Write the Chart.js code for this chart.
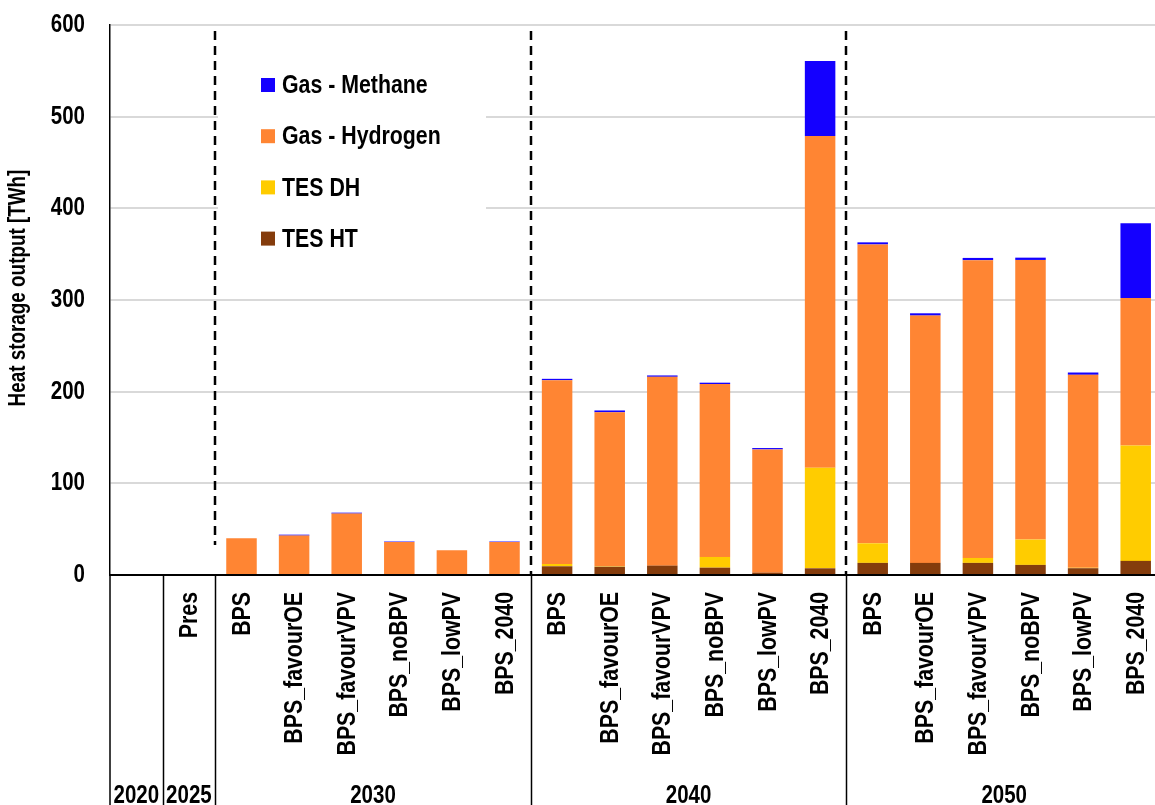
<!DOCTYPE html>
<html>
<head>
<meta charset="utf-8">
<script src="https://cdn.jsdelivr.net/npm/chart.js@4.4.1/dist/chart.umd.min.js"></script>
<style>
  html, body { margin: 0; padding: 0; background: #fff; overflow: hidden; }
  #wrap { width: 1155px; height: 805px; overflow: hidden; position: relative; }
  canvas { display: block; }
</style>
</head>
<body>
<div id="wrap"><canvas id="c" width="1162" height="805" style="width:1162px;height:805px"></canvas></div>
<script>
// ---- data ----
const categories = ['', 'Pres',
  'BPS', 'BPS_favourOE', 'BPS_favourVPV', 'BPS_noBPV', 'BPS_lowPV', 'BPS_2040',
  'BPS', 'BPS_favourOE', 'BPS_favourVPV', 'BPS_noBPV', 'BPS_lowPV', 'BPS_2040',
  'BPS', 'BPS_favourOE', 'BPS_favourVPV', 'BPS_noBPV', 'BPS_lowPV', 'BPS_2040'];
const yearLabels = ['2020', '2025', '2030', '2040', '2050'];
const yearSizes = [1, 1, 6, 6, 6];
const seriesNames = ['TES HT', 'TES DH', 'Gas - Hydrogen', 'Gas - Methane'];
const tesHT = [0, 0, 0, 0, 0, 0, 0, 0, 9.5, 9, 10.2, 8, 2.5, 7.3, 13.2, 13.2, 13.2, 11, 7.4, 15.4];
const tesDH = [0, 0, 0, 0, 0, 0, 0, 0, 2.5, 0.5, 0, 11.7, 0, 109.6, 21.4, 0, 5.4, 27.7, 0.5, 126];
const gasH2 = [0, 0, 40, 43, 67, 36, 27, 36, 200.5, 168, 206, 188.6, 134.5, 362.1, 326, 269.8, 324.8, 305, 210.5, 160.9];
const gasCH4 = [0, 0, 0, 1, 1, 0.5, 0, 0.5, 1.5, 2, 1.5, 1.5, 1.5, 81.7, 2.3, 2.5, 2.5, 2.5, 2.5, 81.3];
const yTicks = [0, 100, 200, 300, 400, 500, 600];
const yTitle = 'Heat storage output [TWh]';

// ---- style ----
const colors = ['#843C0C', '#FFCC00', '#FF8533', '#1400FF'];
const FAM = "'Liberation Sans', Arial, sans-serif";
const SX = 0.82; // narrow-font emulation

const seriesValues = [tesHT, tesDH, gasH2, gasCH4];
const datasets = seriesNames.map((n, i) => ({
  label: n, data: seriesValues[i], backgroundColor: colors[i], borderWidth: 0,
  categoryPercentage: 1.0, barPercentage: 0.58, stack: 's'
}));

function narrowText(ctx, text, x, y, opts) {
  ctx.save();
  ctx.translate(x, y);
  if (opts.rotate) ctx.rotate(opts.rotate);
  ctx.scale(SX, 1);
  ctx.font = 'bold ' + opts.size + 'px ' + FAM;
  ctx.textAlign = opts.align || 'left';
  ctx.textBaseline = opts.baseline || 'middle';
  ctx.fillStyle = '#000';
  ctx.fillText(text, 0, 0);
  ctx.restore();
}

const decor = {
  id: 'decor',
  beforeDatasetsDraw(chart) {
    const ctx = chart.ctx;
    ctx.save();
    ctx.fillStyle = '#fff';
    ctx.fillRect(218, 45, 268, 230);
    const order = [3, 2, 1, 0];
    order.forEach((di, k) => {
      const yc = 85 + k * 51.2;
      ctx.fillStyle = chart.data.datasets[di].backgroundColor;
      ctx.fillRect(261, yc - 7, 14, 14);
      narrowText(ctx, chart.data.datasets[di].label, 282, yc + 1, { size: 26 });
    });
    ctx.restore();
  },
  afterDraw(chart) {
    const ctx = chart.ctx;
    const xs = chart.scales.x;
    const ys = chart.scales.y;
    const ca = chart.chartArea;
    const n = chart.data.labels.length;
    const H = chart.height;
    const boundary = (i) => (xs.getPixelForTick(i - 1) + xs.getPixelForTick(i)) / 2;
    ctx.save();
    let idx = 0;
    const bounds = [];
    yearSizes.forEach((s) => { bounds.push(idx); idx += s; });
    // dashed separators in plot
    ctx.strokeStyle = '#000';
    ctx.lineWidth = 2.5;
    ctx.setLineDash([9, 6]);
    [2, 8, 14].forEach((b, k) => {
      const x = Math.round(boundary(b));
      ctx.beginPath();
      ctx.moveTo(x, ca.top + 6);
      ctx.lineTo(x, k === 0 ? ca.bottom - 30 : ca.bottom);
      ctx.stroke();
    });
    ctx.setLineDash([]);
    // solid separators below axis
    ctx.lineWidth = 1.5;
    bounds.forEach((b) => {
      const x = b === 0 ? ca.left : Math.round(boundary(b)) + 0.5;
      ctx.beginPath();
      ctx.moveTo(x, ca.bottom);
      ctx.lineTo(x, H);
      ctx.stroke();
    });
    // x-axis line
    ctx.lineWidth = 2;
    ctx.beginPath();
    ctx.moveTo(ca.left, ca.bottom);
    ctx.lineTo(chart.width, ca.bottom);
    ctx.stroke();
    // y tick labels
    yTicks.forEach((v) => {
      narrowText(ctx, String(v), ca.left - 25, ys.getPixelForValue(v), { size: 25, align: 'right' });
    });
    // y title
    narrowText(ctx, yTitle, 19, 288, { size: 23, align: 'center', rotate: -Math.PI / 2 });
    // rotated category labels
    chart.data.labels.forEach((lab, i) => {
      if (!lab) return;
      narrowText(ctx, lab, xs.getPixelForTick(i) + 1, ca.bottom + 17,
        { size: 26, align: 'right', rotate: -Math.PI / 2 });
    });
    // year labels
    bounds.forEach((b, k) => {
      const x0 = b === 0 ? ca.left : boundary(b);
      const e = b + yearSizes[k];
      const x1 = e >= n ? chart.width : boundary(e);
      narrowText(ctx, yearLabels[k], (x0 + x1) / 2, H - 2, { size: 25, align: 'center', baseline: 'alphabetic' });
    });
    ctx.restore();
  }
};

new Chart(document.getElementById('c'), {
  type: 'bar',
  data: { labels: categories, datasets },
  options: {
    responsive: false,
    animation: false,
    layout: { padding: { top: 25, right: 0, left: 0, bottom: 0 } },
    plugins: { legend: { display: false }, tooltip: { enabled: false } },
    scales: {
      x: {
        stacked: true,
        grid: { display: false, drawTicks: false },
        border: { display: false },
        ticks: { display: false },
        afterFit(s) { s.height = 230; }
      },
      y: {
        stacked: true,
        min: 0, max: 600,
        afterBuildTicks(s) { s.ticks = yTicks.map(v => ({ value: v })); },
        grid: { color: '#d9d9d9', lineWidth: 2, drawTicks: false },
        border: { display: true, color: '#000', width: 1.5 },
        ticks: { display: false },
        afterFit(s) { s.width = 110; }
      }
    }
  },
  plugins: [decor]
});
</script>
</body>
</html>
